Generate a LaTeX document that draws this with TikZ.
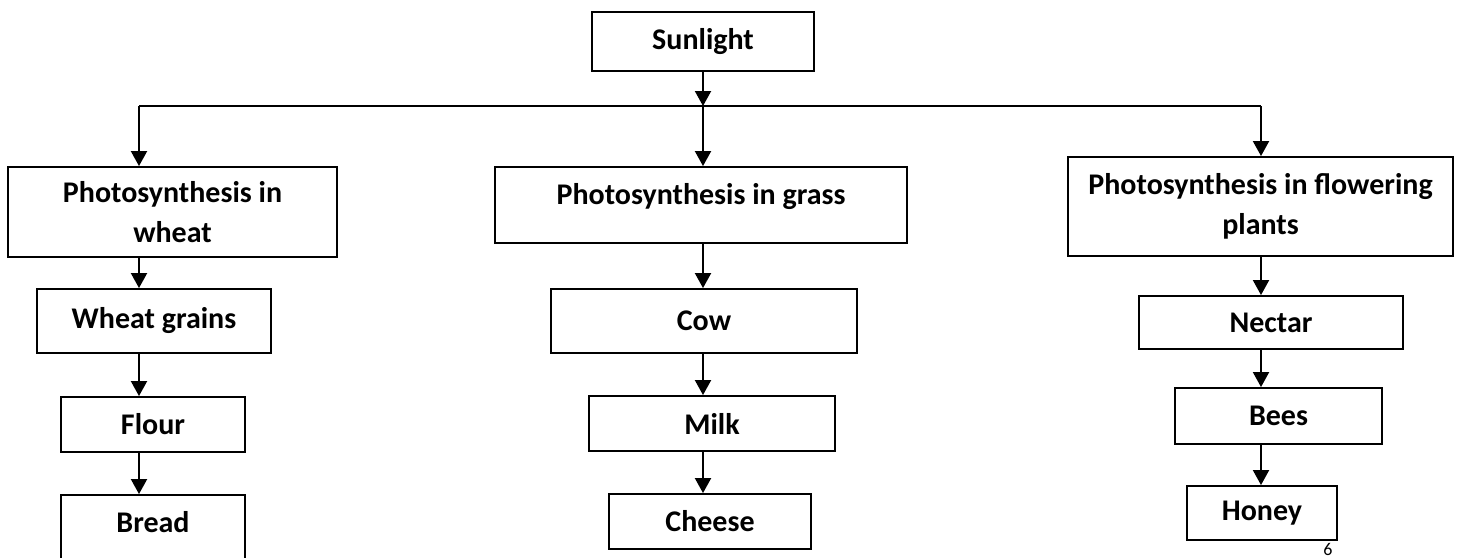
\documentclass[tikz,border=0pt]{standalone}
\usepackage{fontspec}
\setmainfont{Carlito}
\usetikzlibrary{arrows.meta}

\tikzset{
  box/.style={draw, line width=1.9pt, inner sep=0pt, align=center,
    font=\fontsize{30}{40}\selectfont\bfseries},
  flow/.style={line width=2pt, -{Triangle[length=15pt,width=16pt]}},
  bus/.style={line width=1.6pt},
}

\begin{document}
\begin{tikzpicture}[x=1pt,y=1pt,yscale=-1]
\useasboundingbox (0,0) rectangle (1458,557);

%Shape: Rectangle (top)
\node[box, minimum width=222, minimum height=59] (sun) at (703,41.5) {Sunlight};

%Shape: Rectangles (wheat)
\node[box, minimum width=329, minimum height=90] (wheat) at (172.5,212) {Photosynthesis in\\wheat};
\node[box, minimum width=234, minimum height=64] (grains) at (154,321) {Wheat grains};
\node[box, minimum width=184, minimum height=55] (flour) at (153,424.5) {Flour};
\node[box, minimum width=184, minimum height=67, text height=19pt, text depth=11pt] (bread) at (153,528.5) {Bread};

%Shape: Rectangles (grass)
\node[box, minimum width=412, minimum height=76, text height=19pt, text depth=20pt] (grass) at (701,205) {Photosynthesis in grass};
\node[box, minimum width=306, minimum height=64] (cow) at (704,321) {Cow};
\node[box, minimum width=246, minimum height=55] (milk) at (712,423.5) {Milk};
\node[box, minimum width=202, minimum height=55] (cheese) at (710,521.5) {Cheese};

%Shape: Rectangles (flowers)
\node[box, minimum width=385, minimum height=99] (flower) at (1260.5,206.5) {Photosynthesis in flowering\\plants};
\node[box, minimum width=264, minimum height=53] (nectar) at (1271,322.5) {Nectar};
\node[box, minimum width=207, minimum height=56] (bees) at (1278.5,416) {Bees};
\node[box, minimum width=150, minimum height=54] (honey) at (1262,513) {Honey};

% Text Node
\node[font=\fontsize{18}{20}\selectfont, anchor=north, inner sep=0pt] (page) at (1328,543) {6};

%Branch points
\coordinate (jl) at (139,106);
\coordinate (jm) at (703,106);
\coordinate (jr) at (1261,106);

%Straight Lines
\draw[flow] (sun) -- (jm);
\draw[bus] (jl) -- (jr);
\draw[flow] (jl) -- (wheat.north -| jl);
\draw[flow] (jm) -- (grass.north -| jm);
\draw[flow] (jr) -- (flower.north -| jr);

\draw[flow] (wheat.south -| jl) -- (grains.north -| jl);
\draw[flow] (grains.south -| jl) -- (flour.north -| jl);
\draw[flow] (flour.south -| jl) -- (bread.north -| jl);

\draw[flow] (grass.south -| jm) -- (cow.north -| jm);
\draw[flow] (cow.south -| jm) -- (milk.north -| jm);
\draw[flow] (milk.south -| jm) -- (cheese.north -| jm);

\draw[flow] (flower.south -| jr) -- (nectar.north -| jr);
\draw[flow] (nectar.south -| jr) -- (bees.north -| jr);
\draw[flow] (bees.south -| jr) -- (honey.north -| jr);

\end{tikzpicture}
\end{document}
